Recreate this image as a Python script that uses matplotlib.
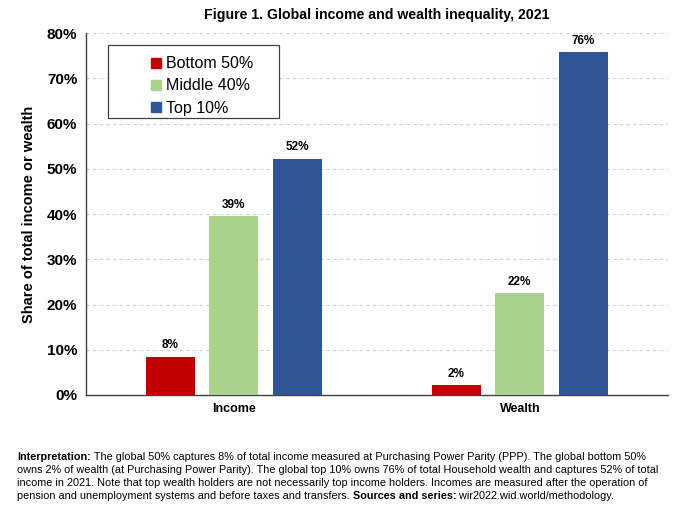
import numpy as np
import matplotlib
matplotlib.use("Agg")
import matplotlib.pyplot as plt
from matplotlib.lines import Line2D
from matplotlib.patches import Rectangle

plt.rcParams['font.family'] = ['Liberation Sans', 'DejaVu Sans']

categories = ["Income", "Wealth"]
groups = ["Bottom 50%", "Middle 40%", "Top 10%"]
values = {
    "Bottom 50%": [8.4, 2.1],
    "Middle 40%": [39.5, 22.5],
    "Top 10%": [52.2, 75.8],
}
labels = {
    "Bottom 50%": ["8%", "2%"],
    "Middle 40%": ["39%", "22%"],
    "Top 10%": ["52%", "76%"],
}
colors = ["#C00000", "#A9D18E", "#2F5597"]
yticks = [0, 10, 20, 30, 40, 50, 60, 70, 80]

fig = plt.figure(figsize=(6.8, 5.2), dpi=100)
ax = fig.add_axes([0.126, 0.2404, 0.856, 0.696])

x = np.arange(len(categories))
width = 0.171
step = 0.222
for i, g in enumerate(groups):
    pos = x + (i - 1) * step
    bars = ax.bar(pos, values[g], width, color=colors[i], zorder=3)
    for b, lab in zip(bars, labels[g]):
        ax.annotate(lab, (b.get_x() + b.get_width() / 2, b.get_height()),
                    xytext=(0, 4), textcoords="offset points",
                    ha="center", va="bottom", fontsize=8.5, fontweight="bold")

ax.set_xlim(-0.517, 1.517)
ax.set_ylim(0, 80)
ax.set_yticks(yticks)
ax.set_yticklabels([f"{t}%" for t in yticks], fontsize=11, fontweight="bold")
ax.set_xticks(x)
ax.set_xticklabels(categories, fontsize=9, fontweight="bold")
ax.tick_params(axis="both", length=0, pad=6)
ax.yaxis.grid(True, linestyle=(0, (3, 3)), color="#D0D0D0", linewidth=0.8, zorder=0)
for s in ["top", "right"]:
    ax.spines[s].set_visible(False)
for s in ["left", "bottom"]:
    ax.spines[s].set_color("#404040")
    ax.spines[s].set_linewidth(1.0)
ax.set_ylabel("Share of total income or wealth", fontsize=10.5, fontweight="bold", labelpad=8)

ax.set_title("Figure 1. Global income and wealth inequality, 2021",
             fontsize=10.2, fontweight="bold", pad=10)

# legend with its own box
fig.patches.append(Rectangle((108 / 680, 1 - 118 / 520), 171 / 680, 73 / 520,
                             transform=fig.transFigure, facecolor="white",
                             edgecolor="#404040", linewidth=0.9, zorder=5))
handles = [Line2D([], [], marker="s", linestyle="none", markersize=7,
                  markerfacecolor=c, markeredgecolor=c) for c in colors]
leg = fig.legend(handles, groups, loc="upper left",
                 bbox_to_anchor=(140 / 680, 1 - 45 / 520), frameon=False,
                 fontsize=11.5, handlelength=0.6, handletextpad=0.3,
                 labelspacing=0.45, borderpad=0.2)
leg.set_zorder(6)

# footnote
fs = 7.85
y0 = 1 - 460 / 520
dy = 13 / 520
xl = 17 / 680
t1 = fig.text(xl, y0, "Interpretation:", fontsize=fs, fontweight="bold", va="baseline")
fig.add_artist(plt.Annotation(
    " The global 50% captures 8% of total income measured at Purchasing Power Parity (PPP). The global bottom 50%",
    xy=(1, 0), xycoords=t1, va="bottom", fontsize=fs, annotation_clip=False))
fig.text(xl, y0 - dy, "owns 2% of wealth (at Purchasing Power Parity). The global top 10% owns 76% of total Household wealth and captures 52% of total",
         fontsize=fs, va="baseline")
fig.text(xl, y0 - 2 * dy, "income in 2021. Note that top wealth holders are not necessarily top income holders. Incomes are measured after the operation of",
         fontsize=fs, va="baseline")
t4 = fig.text(xl, y0 - 3 * dy, "pension and unemployment systems and before taxes and transfers.",
              fontsize=fs, va="baseline")
t5 = plt.Annotation(" Sources and series:", xy=(1, 0), xycoords=t4, va="bottom",
                    fontsize=fs, fontweight="bold", annotation_clip=False)
fig.add_artist(t5)
fig.add_artist(plt.Annotation(" wir2022.wid.world/methodology.", xy=(1, 0), xycoords=t5,
                              va="bottom", fontsize=fs, annotation_clip=False))

fig.savefig("out.png", dpi=100)
